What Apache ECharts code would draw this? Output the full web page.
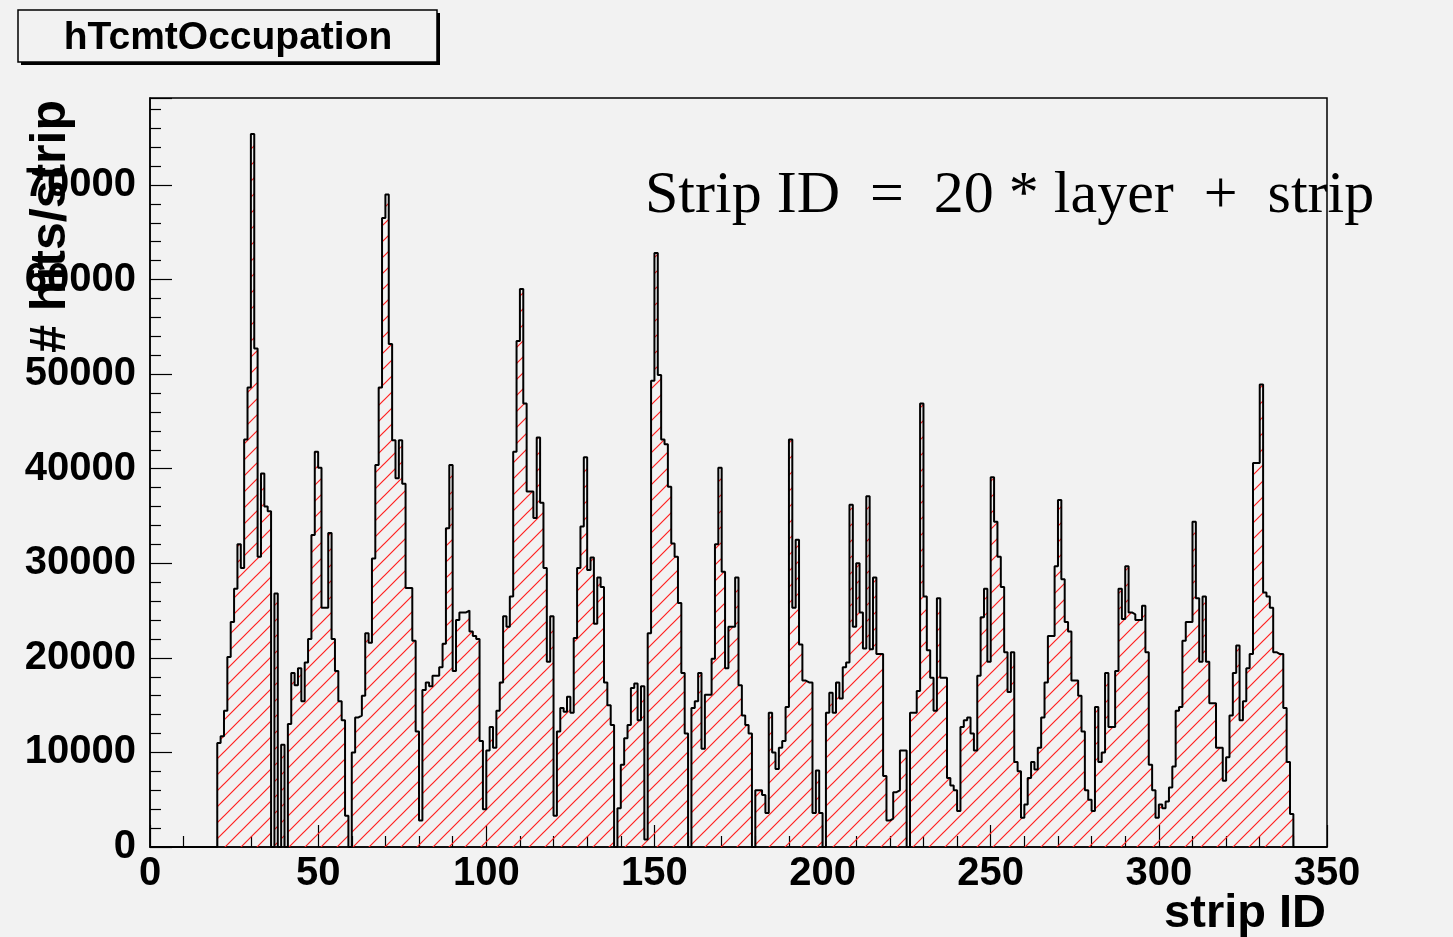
<!DOCTYPE html>
<html>
<head>
<meta charset="utf-8">
<script src="https://cdn.jsdelivr.net/npm/echarts@6/dist/echarts.min.js"></script>
<style>
  html, body { margin: 0; padding: 0; background: #f2f2f2; }
  #chart { width: 1453px; height: 937px; }
</style>
</head>
<body>
<div id="chart"></div>
<script>
// ---- data ----
const histTitle = 'hTcmtOccupation';
const xTitle = 'strip ID';
const yTitle = '# hits/strip';
const note = 'Strip ID  =  20 * layer  +  strip';
const xRange = [0, 350];
const xTickStep = 50;
const yTickStep = 10000;
const yMax = 79200;
const firstStrip = 20;
// hits per strip, strips 20 .. 339 (20 strips per layer)
const counts = [
  11000, 11700, 14400, 20100, 23800, 27300, 32000, 29500, 43100, 48600, 75400, 52700, 30700, 39500, 36000, 35500, 0, 26800, 0, 10800,
  0, 13000, 18400, 17100, 18900, 15400, 19500, 22000, 33000, 41800, 40100, 25300, 25300, 33200, 22000, 18600, 15400, 13400, 3300, 0,
  10000, 13700, 13900, 16000, 22600, 21600, 30500, 40400, 48600, 66500, 69000, 53200, 43000, 39000, 43000, 38400, 27400, 27400, 21800, 12200,
  2800, 16600, 17400, 17000, 18100, 18100, 19000, 21500, 33700, 40400, 18600, 24000, 24800, 24800, 25000, 22800, 22300, 22000, 11200, 4000,
  10200, 12700, 10500, 14400, 17400, 24400, 23300, 26500, 41800, 53500, 59000, 46900, 37600, 37600, 34800, 43300, 36400, 29500, 19600, 24400,
  3300, 12200, 14700, 14300, 15900, 14200, 22100, 29500, 33900, 41200, 29300, 30600, 23600, 28500, 27500, 17400, 15000, 12900, 0, 4100,
  8700, 11500, 12900, 16800, 17300, 13400, 17000, 800, 22600, 49300, 62800, 49900, 43100, 42600, 38100, 32100, 30700, 25800, 18400, 12000,
  0, 14700, 15400, 18400, 10400, 16100, 16100, 19900, 32000, 40100, 29100, 18900, 23300, 23300, 28500, 17100, 13900, 12900, 12000, 0,
  6000, 6000, 5500, 3600, 14200, 10000, 8250, 10500, 11200, 14800, 43100, 25300, 32500, 21400, 17600, 17400, 17400, 3600, 8100, 3600,
  0, 14200, 16300, 14200, 17400, 15700, 19000, 19500, 36200, 23300, 30000, 24800, 21000, 37100, 20900, 28500, 20400, 20400, 7500, 2800,
  3000, 5800, 6000, 10200, 10200, 0, 14200, 14200, 16500, 46900, 26500, 20800, 17900, 14400, 26300, 17900, 17900, 7300, 6500, 6000,
  3800, 12700, 13400, 13700, 12000, 10200, 18100, 24300, 27300, 19600, 39100, 34400, 30700, 27500, 20600, 16400, 20600, 9000, 8000, 3100,
  4500, 7300, 9000, 8200, 10500, 13700, 17400, 22300, 22300, 29700, 36700, 28300, 23800, 22800, 17600, 17600, 16000, 12200, 6000, 5000,
  3800, 14800, 9000, 10000, 18400, 12700, 12700, 18600, 27300, 24100, 29700, 24800, 24600, 24000, 24000, 25500, 20600, 8700, 6000, 3100,
  4500, 4100, 4800, 6300, 8500, 14400, 14800, 21800, 23800, 23800, 34400, 26300, 19600, 26500, 19600, 15200, 15200, 10500, 10500, 7000,
  9500, 13900, 18400, 21300, 13400, 15400, 18900, 20400, 40600, 40600, 48900, 26900, 26500, 25300, 20600, 20400, 20400, 14700, 9000, 3500
];

// ---- build step data: each point = left edge of a bin ----
const stepData = [[xRange[0], 0]];
counts.forEach((v, i) => stepData.push([firstStrip + i, v]));
stepData.push([firstStrip + counts.length, 0]);
stepData.push([xRange[1], 0]);

// red hatch pattern
const pat = document.createElement('canvas');
pat.width = 16; pat.height = 16;
const g = pat.getContext('2d');
g.strokeStyle = '#ff2020';
g.lineWidth = 1.2;
g.beginPath();
g.moveTo(0, 16); g.lineTo(16, 0);
g.moveTo(-2, 2); g.lineTo(2, -2);
g.moveTo(14, 18); g.lineTo(18, 14);
g.stroke();

const FONT = '"Liberation Sans", Arial, Helvetica, sans-serif';
const chart = echarts.init(document.getElementById('chart'), null, { renderer: 'canvas' });

chart.setOption({
  backgroundColor: '#f2f2f2',
  animation: false,
  grid: {
    left: 150, right: 126, top: 98, bottom: 90,
    show: true, borderColor: '#000', borderWidth: 1.5, backgroundColor: 'transparent'
  },
  xAxis: {
    type: 'value', min: xRange[0], max: xRange[1], interval: xTickStep,
    axisLine: { show: true, lineStyle: { color: '#000', width: 1.5 } },
    axisTick: { show: true, inside: true, length: 22, lineStyle: { color: '#000', width: 1.2 } },
    minorTick: { show: true, splitNumber: 5, length: 11, lineStyle: { color: '#000', width: 1.2 } },
    splitLine: { show: false },
    axisLabel: { color: '#000', fontFamily: FONT, fontWeight: 'bold', fontSize: 40, margin: 7,
      formatter: v => String(v) }
  },
  yAxis: {
    type: 'value', min: 0, max: yMax, interval: yTickStep,
    axisLine: { show: true, lineStyle: { color: '#000', width: 1.5 } },
    axisTick: { show: true, inside: true, length: 22, lineStyle: { color: '#000', width: 1.2 } },
    minorTick: { show: true, splitNumber: 5, length: 11, lineStyle: { color: '#000', width: 1.2 } },
    splitLine: { show: false },
    axisLabel: { color: '#000', fontFamily: FONT, fontWeight: 'bold', fontSize: 40, margin: 14, showMaxLabel: false,
      formatter: v => String(v) }
  },
  series: [{
    type: 'line',
    step: 'end',
    data: stepData,
    showSymbol: false,
    symbol: 'none',
    lineStyle: { color: '#000', width: 2 },
    areaStyle: { color: { image: pat, repeat: 'repeat' }, opacity: 1 },
    z: 2
  }],
  graphic: [
    { type: 'rect', shape: { x: 21, y: 13, width: 419, height: 52 }, style: { fill: '#000' }, z: 10 },
    { type: 'rect', shape: { x: 18, y: 10, width: 419, height: 52 }, style: { fill: '#f2f2f2', stroke: '#000', lineWidth: 1.5 }, z: 11 },
    { type: 'text', x: 228, y: 38, style: { text: histTitle, fill: '#000', font: 'bold 39px ' + FONT, textAlign: 'center', textVerticalAlign: 'middle' }, z: 12 },
    { type: 'text', x: 1326, y: 914, style: { text: xTitle, fill: '#000', font: 'bold 47px ' + FONT, textAlign: 'right', textVerticalAlign: 'middle' }, z: 12 },
    { type: 'text', x: 51, y: 100, rotation: Math.PI / 2, style: { text: yTitle, fill: '#000', font: 'bold 50px ' + FONT, textAlign: 'right', textVerticalAlign: 'middle' }, z: 12 },
    { type: 'text', x: 645, y: 196, style: { text: note, fill: '#000', font: '60px "Liberation Serif", "Times New Roman", serif', textAlign: 'left', textVerticalAlign: 'middle' }, z: 12 }
  ]
});
</script>
</body>
</html>
